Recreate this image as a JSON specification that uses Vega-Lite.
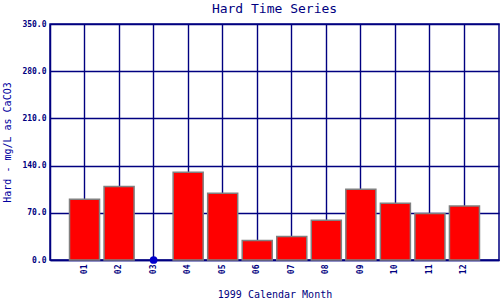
{
  "$schema": "https://vega.github.io/schema/vega-lite/v6.json",
  "width": 449,
  "height": 236,
  "autosize": {"type": "none"},
  "padding": {"left": 50, "top": 24, "right": 1, "bottom": 40},
  "background": "white",
  "config": {
    "view": {"stroke": "#000080", "strokeWidth": 1.5},
    "font": "DejaVu Sans Mono"
  },
  "title": {
    "text": "Hard Time Series",
    "font": "DejaVu Sans Mono",
    "fontSize": 13,
    "fontWeight": "normal",
    "color": "#000080",
    "anchor": "middle",
    "offset": 4
  },
  "data": {
    "values": [
      {"month": "01", "hard": 90},
      {"month": "02", "hard": 109},
      {"month": "03", "hard": 0},
      {"month": "04", "hard": 130},
      {"month": "05", "hard": 99},
      {"month": "06", "hard": 29},
      {"month": "07", "hard": 35},
      {"month": "08", "hard": 59},
      {"month": "09", "hard": 105},
      {"month": "10", "hard": 84},
      {"month": "11", "hard": 69},
      {"month": "12", "hard": 80}
    ]
  },
  "encoding": {
    "x": {
      "field": "month",
      "type": "ordinal",
      "scale": {"paddingInner": 0.13, "paddingOuter": 0.565},
      "axis": {
        "title": "1999 Calendar Month",
        "titleFont": "DejaVu Sans Mono",
        "titleFontSize": 10,
        "titleFontWeight": "normal",
        "titleColor": "#000080",
        "titlePadding": 16,
        "labelAngle": 270,
        "labelFont": "DejaVu Sans Mono",
        "labelFontSize": 8,
        "labelFontWeight": "bold",
        "labelColor": "#000080",
        "labelPadding": 4,
        "ticks": false,
        "grid": true,
        "gridColor": "#000080",
        "gridWidth": 1.4,
        "gridOpacity": 1,
        "domainColor": "#000080",
        "domainWidth": 1.5
      }
    },
    "y": {
      "field": "hard",
      "type": "quantitative",
      "scale": {"domain": [0, 350], "nice": false},
      "axis": {
        "title": "Hard - mg/L as CaCO3",
        "titleFont": "DejaVu Sans Mono",
        "titleFontSize": 10,
        "titleFontWeight": "normal",
        "titleColor": "#0000a0",
        "titlePadding": 9,
        "values": [0, 70, 140, 210, 280, 350],
        "format": ".1f",
        "labelFont": "DejaVu Sans Mono",
        "labelFontSize": 8,
        "labelFontWeight": "bold",
        "labelColor": "#000080",
        "labelPadding": 4,
        "ticks": false,
        "grid": true,
        "gridColor": "#000080",
        "gridWidth": 1.4,
        "gridOpacity": 1,
        "domainColor": "#000080",
        "domainWidth": 1.5
      }
    }
  },
  "layer": [
    {
      "transform": [{"filter": "datum.hard > 0"}],
      "mark": {"type": "bar", "fill": "#ff0000", "stroke": "#808080", "strokeWidth": 1.5}
    },
    {
      "transform": [{"filter": "datum.hard == 0"}],
      "mark": {"type": "point", "filled": true, "color": "#0000cc", "size": 60, "opacity": 1}
    }
  ]
}
